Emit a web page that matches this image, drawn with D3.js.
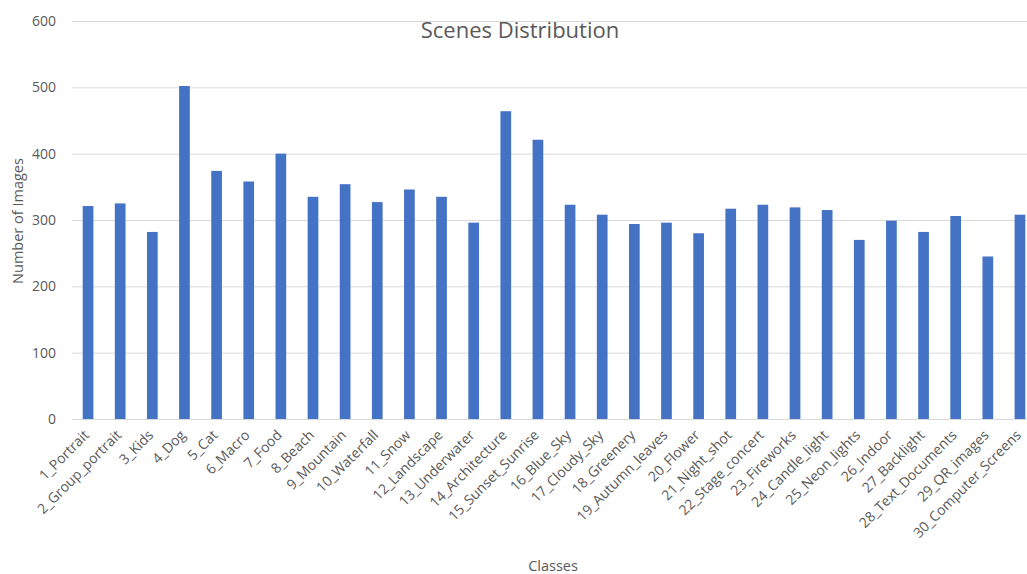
<!DOCTYPE html>
<html>
<head>
  <meta charset="utf-8">
  <script src="https://d3js.org/d3.v7.min.js"></script>
  <style>
    body { margin: 0; background: #fff; overflow: hidden; }
    text { font-family: "Open Sans", sans-serif; fill: #595959; }
    .gridlines line { stroke: #d9d9d9; }
    .gridlines .domain { stroke: none; }
    .x.axis .domain { stroke: #d9d9d9; }
    .x.axis line { stroke: none; }
  </style>
</head>
<body>
  <svg id="chart" width="1027" height="574"></svg>
  <script>
    // data
    const classes = ["1_Portrait", "2_Group_portrait", "3_Kids", "4_Dog", "5_Cat", "6_Macro",
      "7_Food", "8_Beach", "9_Mountain", "10_Waterfall", "11_Snow", "12_Landscape",
      "13_Underwater", "14_Architecture", "15_Sunset_Sunrise", "16_Blue_Sky", "17_Cloudy_Sky",
      "18_Greenery", "19_Autumn_leaves", "20_Flower", "21_Night_shot", "22_Stage_concert",
      "23_Fireworks", "24_Candle_light", "25_Neon_lights", "26_Indoor", "27_Backlight",
      "28_Text_Documents", "29_QR_images", "30_Computer_Screens"];
    const counts = [321, 325, 282, 502, 374, 358, 400, 335, 354, 327, 346, 335,
      296, 464, 421, 323, 308, 294, 296, 280, 317, 323, 319, 315, 270, 299, 282,
      306, 245, 308];
    const yTicks = [0, 100, 200, 300, 400, 500, 600];

    const svg = d3.select("#chart");
    const margin = {top: 21, left: 72, right: -9, bottom: 155};
    const chartWidth = 1027 - margin.left - margin.right;
    const chartHeight = 574 - margin.top - margin.bottom;

    const x = d3.scaleBand().domain(classes).range([0, chartWidth]).paddingInner(0.667).paddingOuter(0.333);
    const y = d3.scaleLinear().domain([0, 600]).range([chartHeight, 0]);

    const chart = svg.append("g").attr("transform", `translate(${margin.left},${margin.top})`);

    // gridlines + y labels
    chart.append("g").attr("class", "gridlines")
      .call(d3.axisLeft(y).tickValues(yTicks).tickSize(-chartWidth).tickFormat(""));
    chart.append("g").attr("class", "y labels")
      .selectAll("text").data(yTicks).join("text")
      .attr("x", -16).attr("y", d => y(d)).attr("dy", "0.35em")
      .attr("text-anchor", "end").style("font-size", "14px")
      .text(d => d);

    chart.selectAll("rect.bar").data(counts).join("rect")
      .attr("class", "bar")
      .attr("x", (d, i) => x(classes[i]))
      .attr("width", x.bandwidth())
      .attr("y", d => y(d))
      .attr("height", d => chartHeight - y(d))
      .attr("fill", "#4472c4");

    const xAxis = chart.append("g").attr("class", "x axis")
      .attr("transform", `translate(0,${chartHeight})`)
      .call(d3.axisBottom(x).tickSize(0).tickSizeOuter(0));
    xAxis.selectAll("text")
      .style("font-size", "14px")
      .attr("text-anchor", "end")
      .attr("y", 0)
      .attr("dy", 0)
      .attr("transform", "translate(2,17) rotate(-45)");

    // titles
    svg.append("text").attr("x", 520).attr("y", 38).attr("text-anchor", "middle")
      .style("font-size", "22px").text("Scenes Distribution");
    svg.append("text").attr("transform", "translate(23,221) rotate(-90)")
      .attr("text-anchor", "middle").style("font-size", "14.5px").text("Number of Images");
    svg.append("text").attr("x", 553).attr("y", 571).attr("text-anchor", "middle")
      .style("font-size", "14.5px").text("Classes");
  </script>
</body>
</html>
